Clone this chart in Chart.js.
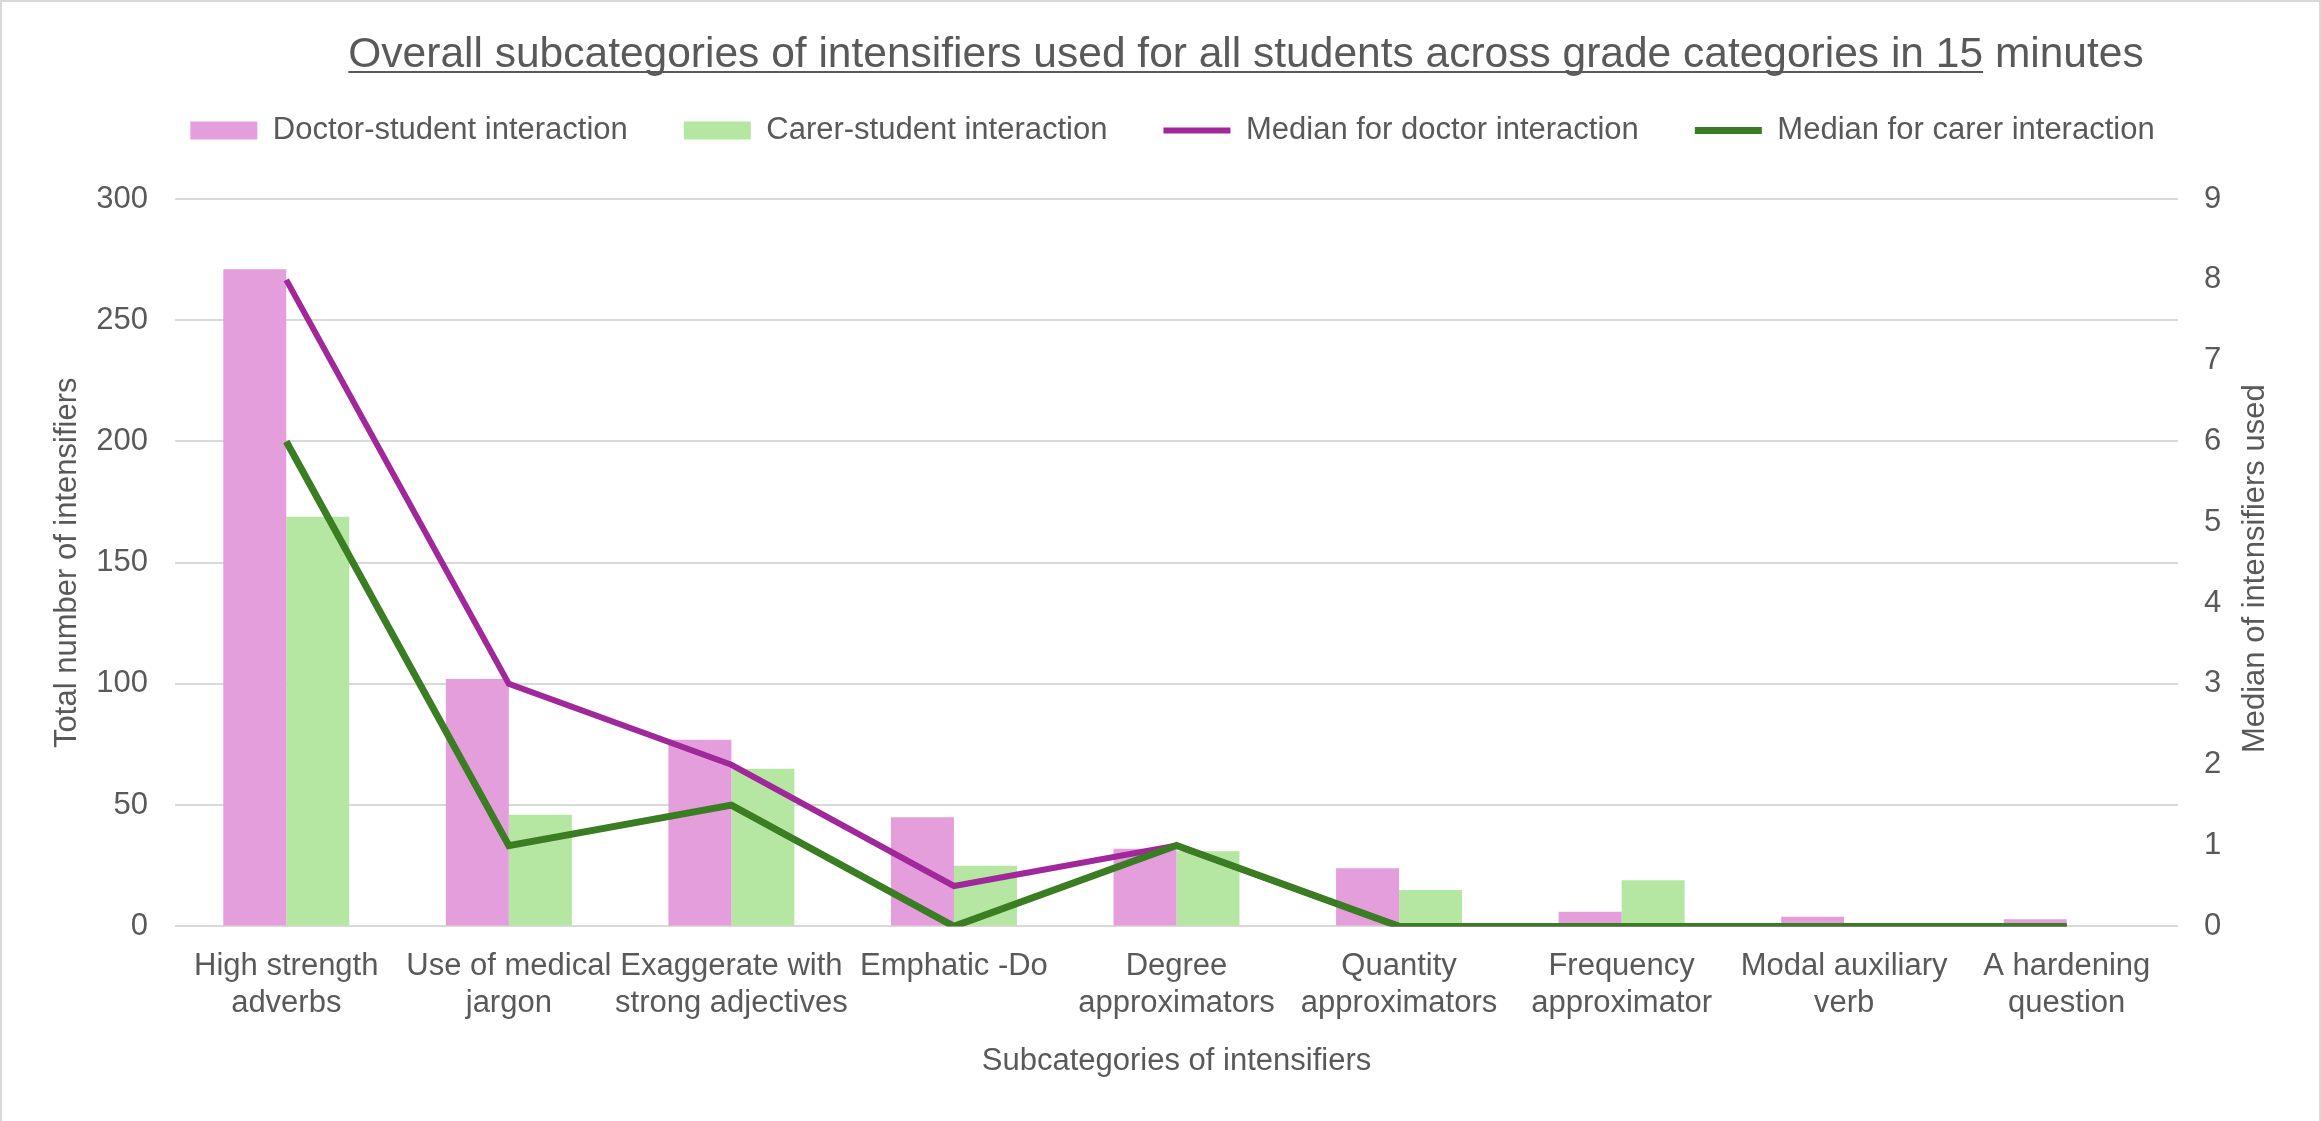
<!DOCTYPE html>
<html lang="en">
<head>
  <meta charset="UTF-8">
  <title>Subcategories of intensifiers</title>
  <script src="https://cdn.jsdelivr.net/npm/chart.js@4.4.1/dist/chart.umd.min.js"></script>
  <style>
    html, body { margin: 0; padding: 0; background: #fff; }
    #wrap { width: 2321px; height: 1121px; position: relative; }
  </style>
</head>
<body>
  <div id="wrap"><canvas id="chart"></canvas></div>
  <script>
    // data
    const categories = [
      ["High strength", "adverbs"],
      ["Use of medical", "jargon"],
      ["Exaggerate with", "strong adjectives"],
      ["Emphatic -Do"],
      ["Degree", "approximators"],
      ["Quantity", "approximators"],
      ["Frequency", "approximator"],
      ["Modal auxiliary", "verb"],
      ["A hardening", "question"]
    ];
    const doctorTotals = [271, 102, 77, 45, 32, 24, 6, 4, 3];
    const carerTotals = [169, 46, 65, 25, 31, 15, 19, 0, 0];
    const doctorMedian = [8, 3, 2, 0.5, 1, 0, 0, 0, 0];
    const carerMedian = [6, 1, 1.5, 0, 1, 0, 0, 0, 0];

    const FONT = '"Liberation Sans", Arial, sans-serif';
    const GREY = '#595959';
    const titleText = 'Overall subcategories of intensifiers used for all students across grade categories in 15 minutes';
    const underlined = 'Overall subcategories of intensifiers used for all students across grade categories in 15';
    const rightTitle = 'Median of intensifiers used';

    // title with partial underline, right axis title (reads bottom to top), thin frame
    const extras = {
      id: 'extras',
      beforeDraw(chart) {
        const ctx = chart.ctx;
        ctx.save();
        ctx.strokeStyle = '#d9d9d9';
        ctx.lineWidth = 2;
        ctx.beginPath();
        ctx.moveTo(1, chart.height);
        ctx.lineTo(1, 1);
        ctx.lineTo(chart.width - 1, 1);
        ctx.lineTo(chart.width - 1, chart.height);
        ctx.stroke();
        ctx.restore();
      },
      afterDraw(chart) {
        const ctx = chart.ctx;
        const area = chart.chartArea;
        ctx.save();
        ctx.fillStyle = GREY;
        ctx.strokeStyle = GREY;
        ctx.font = '42.5px ' + FONT;
        ctx.textAlign = 'left';
        ctx.textBaseline = 'alphabetic';
        const w = ctx.measureText(titleText).width;
        const x0 = 1246 - w / 2;
        ctx.fillText(titleText, x0, 67);
        ctx.lineWidth = 2;
        ctx.beginPath();
        ctx.moveTo(x0, 72);
        ctx.lineTo(x0 + ctx.measureText(underlined).width, 72);
        ctx.stroke();

        ctx.font = '31px ' + FONT;
        ctx.textAlign = 'center';
        ctx.textBaseline = 'middle';
        ctx.translate(2255, (area.top + area.bottom) / 2 + 6);
        ctx.rotate(-Math.PI / 2);
        ctx.fillText(rightTitle, 0, 0);
        ctx.restore();
      }
    };

    const ctx = document.getElementById('chart').getContext('2d');
    new Chart(ctx, {
      type: 'bar',
      data: {
        labels: categories,
        datasets: [
          {
            label: 'Doctor-student interaction',
            data: doctorTotals,
            backgroundColor: '#e39edb',
            yAxisID: 'y',
            order: 3,
            pointStyle: 'rect',
            categoryPercentage: 0.566,
            barPercentage: 1.0
          },
          {
            label: 'Carer-student interaction',
            data: carerTotals,
            backgroundColor: '#b5e6a2',
            yAxisID: 'y',
            order: 3,
            pointStyle: 'rect',
            categoryPercentage: 0.566,
            barPercentage: 1.0
          },
          {
            type: 'line',
            label: 'Median for doctor interaction',
            data: doctorMedian,
            borderColor: '#a0289a',
            backgroundColor: '#a0289a',
            borderWidth: 6,
            pointRadius: 0,
            pointStyle: 'line',
            tension: 0,
            yAxisID: 'y1',
            order: 2
          },
          {
            type: 'line',
            label: 'Median for carer interaction',
            data: carerMedian,
            borderColor: '#3a7d22',
            backgroundColor: '#3a7d22',
            borderWidth: 7,
            pointRadius: 0,
            pointStyle: 'line',
            tension: 0,
            yAxisID: 'y1',
            order: 1
          }
        ]
      },
      options: {
        responsive: true,
        maintainAspectRatio: false,
        animation: false,
        layout: { padding: { top: 59, left: 45, right: 21, bottom: 37 } },
        plugins: {
          title: { display: false },
          tooltip: { enabled: false },
          legend: {
            position: 'top',
            labels: {
              usePointStyle: true,
              pointStyleWidth: 67,
              boxHeight: 18,
              padding: 56,
              color: GREY,
              font: { size: 31, family: FONT },
              sort: (a, b) => a.datasetIndex - b.datasetIndex
            }
          }
        },
        scales: {
          x: {
            grid: { display: false, drawTicks: false },
            border: { display: false },
            ticks: {
              color: GREY,
              font: { size: 31, family: FONT },
              padding: 21,
              maxRotation: 0,
              minRotation: 0,
              autoSkip: false
            },
            title: {
              display: true,
              text: 'Subcategories of intensifiers',
              color: GREY,
              font: { size: 31, family: FONT },
              padding: { top: 0, bottom: 4 }
            }
          },
          // empty spacer between legend and plot
          xTop: {
            type: 'category',
            position: 'top',
            grid: { display: false, drawTicks: false },
            border: { display: false },
            ticks: { display: false },
            afterFit(scale) {
              scale.height = 43;
            }
          },
          y: {
            position: 'left',
            min: 0,
            max: 300,
            ticks: { stepSize: 50, padding: 27, color: GREY, font: { size: 31, family: FONT } },
            grid: { color: '#d9d9d9', lineWidth: 2, drawTicks: false },
            border: { display: false },
            title: {
              display: true,
              text: 'Total number of intensifiers',
              color: GREY,
              font: { size: 31, family: FONT },
              padding: { top: 4, bottom: 10 }
            },
            afterFit(scale) {
              scale.width = 130;
            }
          },
          y1: {
            position: 'right',
            min: 0,
            max: 9,
            ticks: { stepSize: 1, padding: 26, color: GREY, font: { size: 31, family: FONT } },
            grid: { drawOnChartArea: false, drawTicks: false },
            border: { display: false },
            afterFit(scale) {
              scale.width = 122;
            }
          }
        }
      },
      plugins: [extras]
    });
  </script>
</body>
</html>
